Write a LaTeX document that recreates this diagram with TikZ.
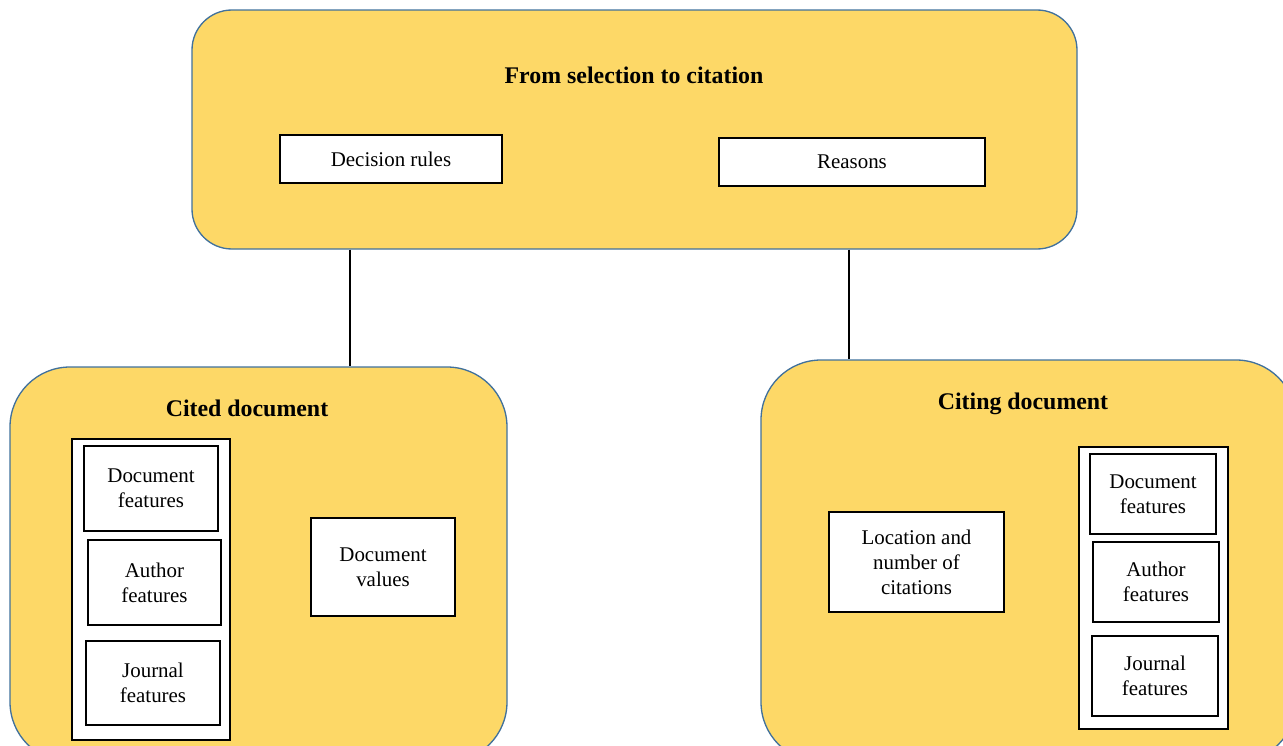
\documentclass[tikz,border=0pt]{standalone}
\usepackage{fontspec}
\setmainfont{Liberation Serif}
\usepackage[HTML]{xcolor}
\usetikzlibrary{positioning, fit}
\definecolor{panelfill}{HTML}{FDD867}
\definecolor{panelline}{HTML}{41719C}

\tikzset{
  panel/.style={draw=panelline, fill=panelfill, line width=1pt, inner sep=0pt},
  item/.style={draw, fill=white, line width=1.3pt, inner sep=0pt},
  itemtext/.style={align=center, inner sep=0pt, font=\fontsize{15.7}{18.8}\selectfont},
  group/.style={draw, fill=white, line width=1.3pt, inner sep=0pt},
  head/.style={font=\bfseries\fontsize{17.9}{21}\selectfont},
  link/.style={line width=1.4pt},
}

\begin{document}
\begin{tikzpicture}[x=0.75pt, y=-0.75pt]
\useasboundingbox (0,0) rectangle (1283,746);
% top panel
\node[panel, rounded corners=30pt, fit={(192,10) (1077,249)}] (top) {};
\node[head] (toptitle) at (634,75) {From selection to citation};
\node[item, fit={(280,135) (502,183)}] (rules) {};
\node[itemtext] (rulestext) at (rules) {Decision rules};
\node[item, fit={(719,138) (985,186)}] (reasons) {};
\node[itemtext] (reasonstext) at (reasons) {Reasons};
% cited document
\node[panel, rounded corners=45pt, fit={(10,367) (507,762)}] (cited) {};
\node[head] (citedtitle) at (247,408) {Cited document};
\node[group, fit={(72,439) (230,740)}] (citedgroup) {};
\node[item, fit={(84,446) (218,531)}] (citeddoc) {};
\node[itemtext] at (citeddoc) {Document\\features};
\node[item, fit={(88,540) (221,625)}] (citedauthor) {};
\node[itemtext] at (citedauthor) {Author\\features};
\node[item, fit={(86,641) (220,725)}] (citedjournal) {};
\node[itemtext] at (citedjournal) {Journal\\features};
\node[item, fit={(311,518) (455,616)}] (values) {};
\node[itemtext] at (values) {Document\\values};
% citing document
\node[panel, rounded corners=45pt, fit={(761,360) (1296,762)}] (citing) {};
\node[head] (citingtitle) at (1023,404) {Citing document};
\node[item, fit={(829,512) (1004,612)}] (location) {};
\node[itemtext] at (location) {Location and\\number of\\citations};
\node[group, fit={(1079,447) (1228,729)}] (citinggroup) {};
\node[item, fit={(1090,454) (1216,534)}] (citingdoc) {};
\node[itemtext] at (citingdoc) {Document\\features};
\node[item, fit={(1093,542) (1219,622)}] (citingauthor) {};
\node[itemtext] at (citingauthor) {Author\\features};
\node[item, fit={(1092,636) (1218,716)}] (citingjournal) {};
\node[itemtext] at (citingjournal) {Journal\\features};
% links
\coordinate (leftx) at (350,0);
\coordinate (rightx) at (849,0);
\draw[link] (top.south -| leftx) -- (cited.north -| leftx);
\draw[link] (top.south -| rightx) -- (citing.north -| rightx);
\end{tikzpicture}
\end{document}
